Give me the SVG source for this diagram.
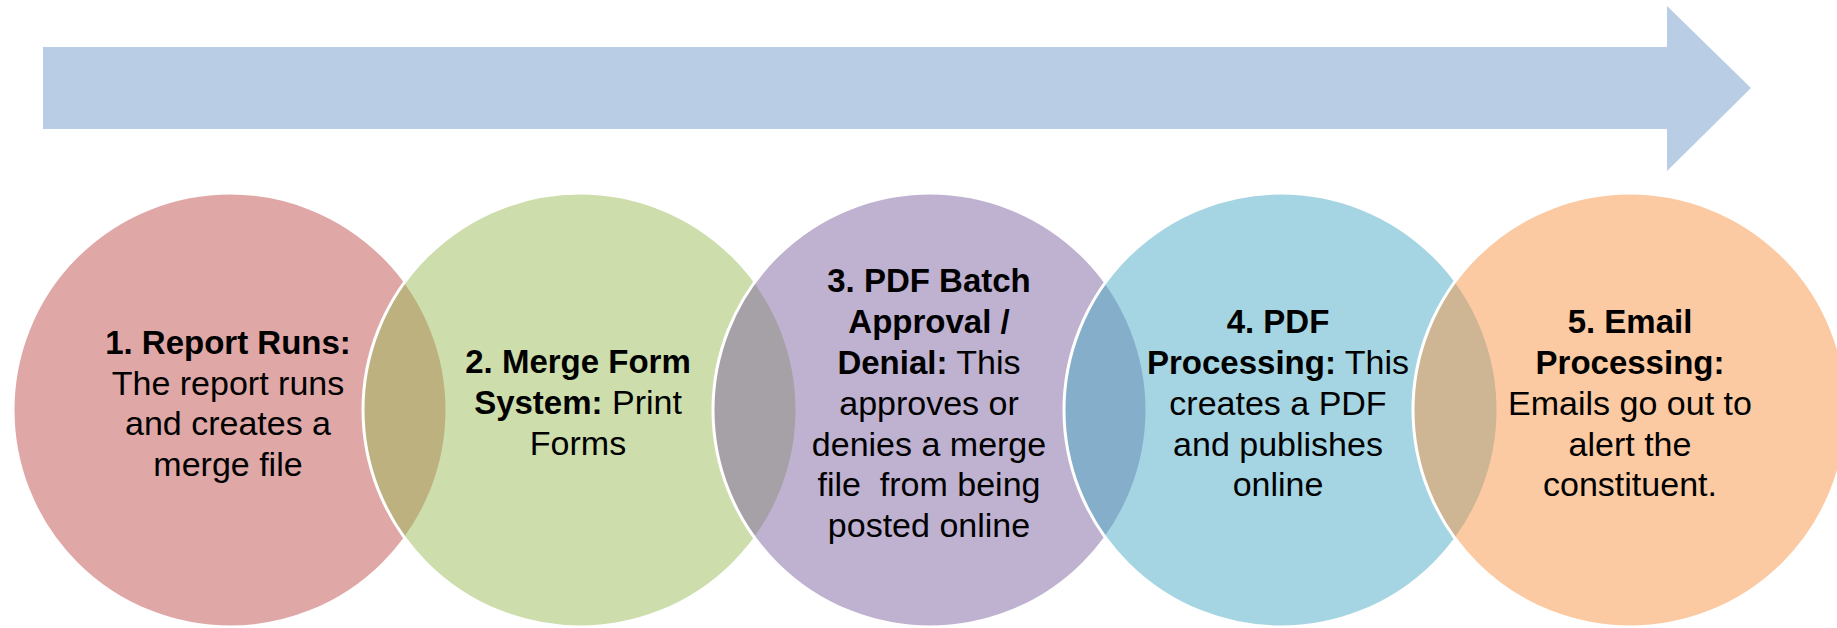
<svg xmlns="http://www.w3.org/2000/svg" width="1837" height="628" viewBox="0 0 1837 628">
<style>
.c{stroke:#ffffff;stroke-width:3;fill-opacity:0.5}
text{font-family:"Liberation Sans",Arial,sans-serif;font-size:34px;fill:#000;text-anchor:middle}
.b{font-weight:bold;font-size:33px}
</style>
<rect width="1837" height="628" fill="#ffffff"/>
<g id="connectors">
<path id="timeline-arrow" d="M43,47 H1667 V6 L1751,88 L1667,171 V129 H43 Z" fill="#B9CDE5"/>
</g>
<g id="node1">
<circle class="c" cx="230" cy="410" r="217" fill="#C0504D"/>
<text x="228" y="354" class="b">1. Report Runs:</text>
<text x="228" y="394.5">The report runs</text>
<text x="228" y="435">and creates a</text>
<text x="228" y="475.5">merge file</text>
</g>
<g id="node2">
<circle class="c" cx="580" cy="410" r="217" fill="#9BBB59"/>
<text x="578" y="373" class="b">2. Merge Form</text>
<text x="578" y="414"><tspan class="b">System:</tspan> Print</text>
<text x="578" y="455">Forms</text>
</g>
<g id="node3">
<circle class="c" cx="930" cy="410" r="217" fill="#8064A2"/>
<text x="929" y="291.5" class="b">3. PDF Batch</text>
<text x="929" y="332.5" class="b">Approval /</text>
<text x="929" y="373.5"><tspan class="b">Denial:</tspan> This</text>
<text x="929" y="414.5">approves or</text>
<text x="929" y="455.5">denies a merge</text>
<text x="929" y="496" xml:space="preserve">file  from being</text>
<text x="929" y="537">posted online</text>
</g>
<g id="node4">
<circle class="c" cx="1281" cy="410" r="217" fill="#4BACC6"/>
<text x="1278" y="332.5" class="b">4. PDF</text>
<text x="1278" y="373.5"><tspan class="b">Processing:</tspan> This</text>
<text x="1278" y="414.5">creates a PDF</text>
<text x="1278" y="455.5">and publishes</text>
<text x="1278" y="496">online</text>
</g>
<g id="node5">
<circle class="c" cx="1630" cy="410" r="217" fill="#F79646"/>
<text x="1630" y="332.5" class="b">5. Email</text>
<text x="1630" y="373.5" class="b">Processing:</text>
<text x="1630" y="414.5">Emails go out to</text>
<text x="1630" y="455.5">alert the</text>
<text x="1630" y="496">constituent.</text>
</g>
</svg>
